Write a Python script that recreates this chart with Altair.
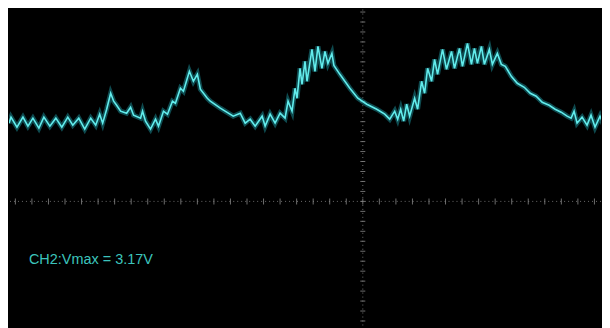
import altair as alt
import pandas as pd
import numpy as np

# Time (ms) and voltage (V)
time_ms = [-3.55, -3.53, -3.47, -3.41, -3.36, -3.31, -3.25, -3.20, -3.14, -3.08,
           -3.02, -2.96, -2.91, -2.85, -2.79, -2.73, -2.68, -2.64, -2.61, -2.57,
           -2.53, -2.50, -2.47, -2.43, -2.37, -2.33, -2.30, -2.23, -2.21, -2.18,
           -2.13, -2.08, -2.05, -2.00, -1.96, -1.91, -1.88, -1.83, -1.80, -1.74,
           -1.70, -1.66, -1.63, -1.56, -1.53, -1.43, -1.30, -1.23, -1.18, -1.13,
           -1.08, -1.01, -0.98, -0.93, -0.88, -0.83, -0.78, -0.75, -0.71, -0.68,
           -0.66, -0.63, -0.61, -0.58, -0.56, -0.51, -0.48, -0.45, -0.41, -0.38,
           -0.35, -0.31, -0.29, -0.23, -0.13, -0.05, 0.04, 0.14, 0.22, 0.27,
           0.32, 0.35, 0.38, 0.41, 0.44, 0.47, 0.52, 0.55, 0.59, 0.62,
           0.65, 0.69, 0.72, 0.75, 0.80, 0.84, 0.89, 0.92, 0.97, 1.00,
           1.05, 1.09, 1.12, 1.15, 1.19, 1.22, 1.27, 1.30, 1.35, 1.39,
           1.43, 1.49, 1.55, 1.62, 1.68, 1.74, 1.80, 1.87, 1.93, 1.99,
           2.05, 2.09, 2.12, 2.15, 2.20, 2.25, 2.29, 2.33, 2.38, 2.42, 2.47]
volts = [1.57, 1.69, 1.49, 1.69, 1.51, 1.67, 1.47, 1.69, 1.51, 1.67,
         1.49, 1.69, 1.53, 1.67, 1.45, 1.67, 1.53, 1.75, 1.57, 1.85,
         2.17, 2.01, 1.93, 1.81, 1.77, 1.89, 1.73, 1.67, 1.81, 1.61,
         1.45, 1.65, 1.51, 1.81, 1.75, 2.01, 1.97, 2.27, 2.21, 2.61,
         2.41, 2.55, 2.25, 2.07, 2.01, 1.87, 1.71, 1.77, 1.57, 1.65,
         1.51, 1.71, 1.51, 1.75, 1.57, 1.77, 1.67, 2.01, 1.81, 2.27,
         2.07, 2.67, 2.35, 2.81, 2.41, 3.05, 2.61, 3.11, 2.67, 3.01,
         2.77, 2.97, 2.73, 2.55, 2.27, 2.07, 1.95, 1.85, 1.75, 1.65,
         1.81, 1.65, 1.85, 1.61, 1.95, 1.71, 2.07, 1.85, 2.41, 2.17,
         2.67, 2.41, 2.85, 2.55, 3.05, 2.65, 3.01, 2.67, 3.07, 2.71,
         3.17, 2.75, 3.07, 2.77, 3.11, 2.75, 3.05, 2.75, 2.97, 2.75,
         2.71, 2.51, 2.37, 2.29, 2.17, 2.11, 1.99, 1.93, 1.85, 1.79,
         1.71, 1.67, 1.81, 1.57, 1.69, 1.53, 1.73, 1.49, 1.71, 1.51, 1.67]

label_text = ["CH2:Vmax = 3.17V"]
label_t = [-3.35]
label_v = [-1.17]

X_DOM = [-3.55, 2.39]
Y_DOM = [-2.55, 3.85]

trace = pd.DataFrame({"t": time_ms, "v": volts})
xs = alt.Scale(domain=X_DOM, nice=False, zero=False)
ys = alt.Scale(domain=Y_DOM, nice=False, zero=False)

# graticule tick positions
h_ticks = pd.DataFrame({"t": np.round(np.arange(-21, 15) * 0.166, 3), "v": 0.0})
v_ticks = pd.DataFrame({"t": 0.0, "v": np.round(np.arange(-12, 20) * 0.2, 2)})
axes = pd.DataFrame({"t": [0.0], "v": [0.0]})

hline = alt.Chart(axes).mark_rule(color="#6a6a6a", strokeDash=[1, 3], strokeWidth=1).encode(
    y=alt.Y("v:Q", scale=ys, axis=None))
vline = alt.Chart(axes).mark_rule(color="#6a6a6a", strokeDash=[1, 3], strokeWidth=1).encode(
    x=alt.X("t:Q", scale=xs, axis=None))
hticks = alt.Chart(h_ticks).mark_tick(orient="vertical", color="#8a8a8a", size=6, thickness=1, opacity=0.8).encode(
    x=alt.X("t:Q", scale=xs, axis=None), y=alt.Y("v:Q", scale=ys, axis=None))
vticks = alt.Chart(v_ticks).mark_tick(orient="horizontal", color="#8a8a8a", size=5, thickness=1, opacity=0.8).encode(
    x=alt.X("t:Q", scale=xs, axis=None), y=alt.Y("v:Q", scale=ys, axis=None))

glow = alt.Chart(trace).mark_line(color="#1fa3b0", strokeWidth=5, opacity=0.45, clip=True).encode(
    x=alt.X("t:Q", scale=xs, axis=None), y=alt.Y("v:Q", scale=ys, axis=None), order="t:Q")
core = alt.Chart(trace).mark_line(color="#62ecec", strokeWidth=1.6, clip=True).encode(
    x=alt.X("t:Q", scale=xs, axis=None), y=alt.Y("v:Q", scale=ys, axis=None), order="t:Q")

label = alt.Chart(pd.DataFrame({"t": label_t, "v": label_v, "s": label_text})).mark_text(
    align="left", baseline="middle", color="#3cc4bc", fontSize=14.5, font="Liberation Sans").encode(
    x=alt.X("t:Q", scale=xs, axis=None), y=alt.Y("v:Q", scale=ys, axis=None), text="s:N")

chart = alt.layer(hline, vline, hticks, vticks, glow, core, label).properties(
    width=594, height=320, padding=0, background="black"
).configure_view(stroke=None, fill="black")

chart.save("out.html", embed_options={"renderer": "svg", "actions": False})
